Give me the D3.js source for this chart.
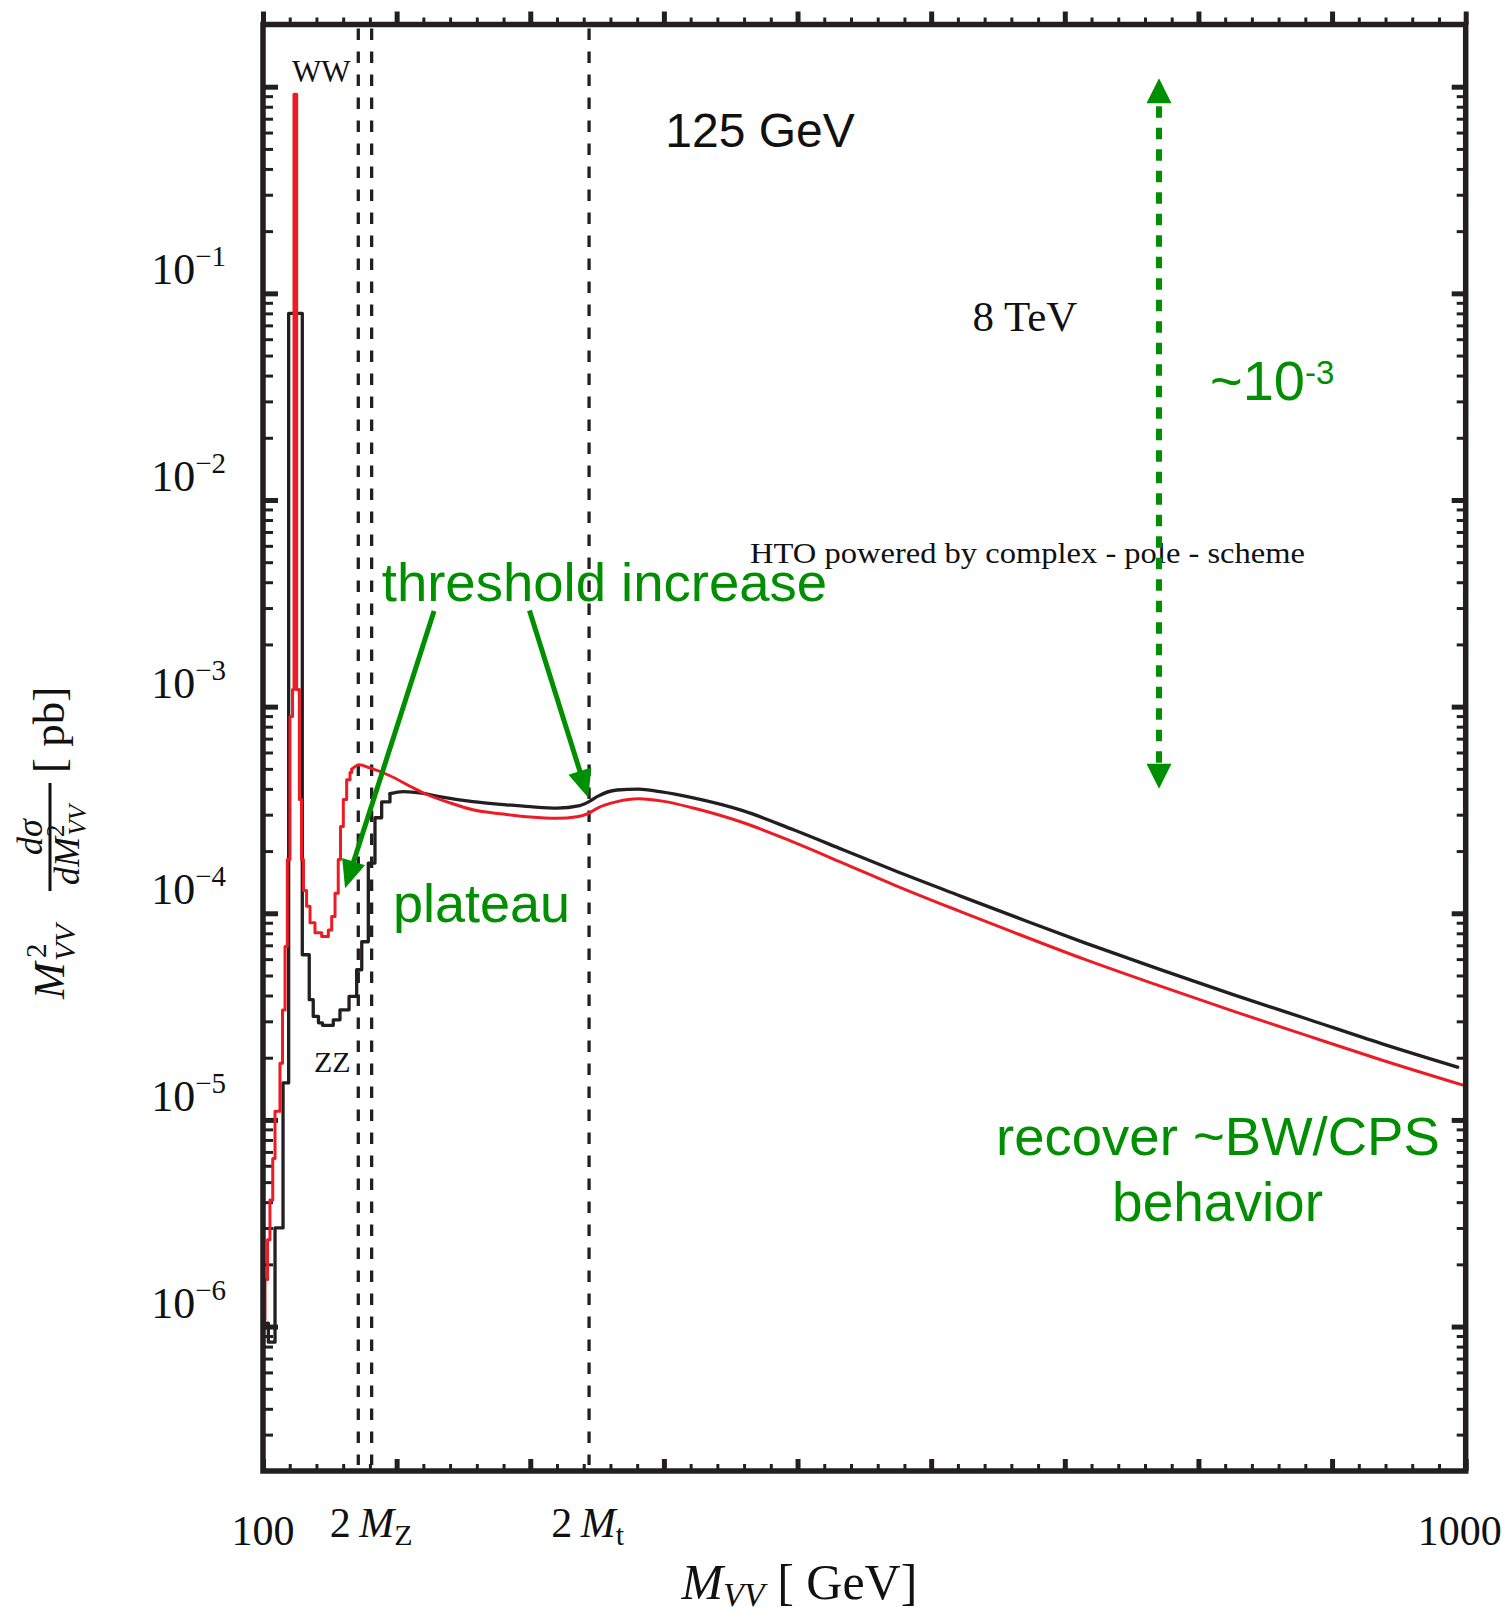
<!DOCTYPE html>
<html><head><meta charset="utf-8">
<script src="https://cdn.jsdelivr.net/npm/d3@7"></script>
<style>body{margin:0;background:#fff}svg{display:block}</style>
</head><body>
<svg id="c" width="1507" height="1617"></svg>
<script>
// ---------------- data ----------------
const xDomain = [100, 1000];
const yDomain = [2e-7, 2];
const xMajorTicks = [100, 200, 300, 400, 500, 600, 700, 800, 900, 1000];
const xMinorTicks = [120,140,160,180,220,240,260,280,320,340,360,380,420,440,460,480,520,540,560,580,620,640,660,680,720,740,760,780,820,840,860,880,920,940,960,980];
const yMajorTicks = [1e-6, 1e-5, 1e-4, 1e-3, 1e-2, 1e-1, 1];
const yMinorMultipliers = [2, 3, 4, 5, 6, 7, 8, 9];
const yLabelExponents = [-1, -2, -3, -4, -5, -6];
const xTickLabels = ["100", "2 M|Z", "2 M|t", "1000"];
const xTickLabelValues = [100, 181, 343, 1000];
const thresholdLines = [171.3, 181.3, 344];

// black histogram (low-mass bins): edges and bin contents
const blackStepEdges = [102,104,109,115,119.2,129.4,134.6,137.6,141.5,144.5,152.6,157.6,164.4,170.1,173.9,178.8,183.8,188.8,195];
const blackStepValues = [1.04e-6,8.4e-7,3.0e-6,1.51e-5,0.080,6.3e-5,3.82e-5,3.17e-5,2.95e-5,2.87e-5,3.05e-5,3.41e-5,3.96e-5,5.33e-5,7.28e-5,1.75e-4,2.90e-4,3.46e-4];
// black smooth part
const blackX = [195,205,220,232,257,282,300,320,337,344,350,365,381,397,422,459,497,534,572,622,660,715,771,826,882,937,994];
const blackY = [3.79e-4,3.88e-4,3.8e-4,3.67e-4,3.47e-4,3.35e-4,3.28e-4,3.23e-4,3.32e-4,3.47e-4,3.67e-4,3.95e-4,3.99e-4,3.88e-4,3.62e-4,3.14e-4,2.535e-4,2.03e-4,1.614e-4,1.211e-4,9.77e-5,7.19e-5,5.35e-5,4.04e-5,3.07e-5,2.34e-5,1.80e-5];

// red histogram (fine bins near the peak)
const redStepEdges = [100.9,101.5,103.4,105.2,107.3,109,112.7,114.6,116.5,118.2,120.2,122.1,123.2,125.2,127.2,128.8,130.3,132.6,135.2,138.9,143.9,148.9,151.4,153.9,156.3,158.0,160.1,162.6,165.1,166.4];
const redStepValues = [1.08e-6,1.69e-6,2.63e-6,4.1e-6,6.5e-6,1.1e-5,1.88e-5,3.4e-5,6.9e-5,1.82e-4,8.95e-4,1.21e-3,0.92,1.21e-3,3.55e-4,1.82e-4,1.29e-4,1.08e-4,8.99e-5,8.05e-5,7.73e-5,8.3e-5,9.65e-5,1.25e-4,1.82e-4,2.63e-4,3.55e-4,4.43e-4,4.8e-4];
// red smooth part
const redX = [166.4,172,180,195,210,220,240,257,280,300,320,335,344,350,365,381,400,422,459,497,534,572,622,660,715,771,826,882,937,1000];
const redY = [4.98e-4,5.23e-4,5.05e-4,4.63e-4,4.12e-4,3.82e-4,3.42e-4,3.17e-4,3.02e-4,2.92e-4,2.88e-4,2.93e-4,3.05e-4,3.22e-4,3.47e-4,3.58e-4,3.48e-4,3.23e-4,2.75e-4,2.21e-4,1.75e-4,1.374e-4,1.019e-4,8.17e-5,5.98e-5,4.45e-5,3.36e-5,2.55e-5,1.95e-5,1.46e-5];

// annotations (data coordinates)
const arrowStarts = [[228, 2.9e-3], [299.4, 2.92e-3]];
const arrowEnds   = [[161.4, 1.32e-4], [343.4, 3.62e-4]];
const rangeArrowX = 770.5;
const rangeArrowY = [1.1, 4.0e-4];

// ---------------- drawing ----------------
const svg = d3.select('#c');
const INK = '#231f20', RED = '#ed1c24', GREEN = '#008f00';
const SERIF = '"Liberation Serif","DejaVu Serif",serif';
const SANS = '"Liberation Sans",Arial,sans-serif';

const x = d3.scaleLinear().domain(xDomain).range([263, 1465.7]);
const y = d3.scaleLog().domain(yDomain).range([1471, 24.5]);
const X0 = x(xDomain[0]), X1 = x(xDomain[1]), Y0 = y(yDomain[0]), Y1 = y(yDomain[1]);

// minor y ticks
const yMinorTicks = [];
for (let e = -7; e <= 0; e++) yMinorMultipliers.forEach(m => {
  const v = m * Math.pow(10, e);
  if (v > yDomain[0] * 1.0001 && v < yDomain[1] * 0.9999) yMinorTicks.push(v);
});

// threshold dashed lines
svg.append('g').selectAll('line').data(thresholdLines).join('line')
  .attr('x1', d => x(d)).attr('x2', d => x(d))
  .attr('y1', Y1 + 4).attr('y2', Y0 - 6)
  .attr('stroke', INK).attr('stroke-width', 3.3).attr('stroke-dasharray', '11.5,11.5');

function drawAxis(axis, tx, ty, vals, size, width) {
  const g = svg.append('g').attr('transform', `translate(${tx},${ty})`)
    .call(axis.tickValues(vals).tickSize(size).tickFormat(''));
  g.select('.domain').remove();
  g.selectAll('.tick line').attr('stroke', INK).attr('stroke-width', width);
}
drawAxis(d3.axisRight(y), X0, 0, yMajorTicks, 15, 5);
drawAxis(d3.axisRight(y), X0, 0, yMinorTicks, 10, 3);
drawAxis(d3.axisLeft(y), X1, 0, yMajorTicks, 14, 5);
drawAxis(d3.axisLeft(y), X1, 0, yMinorTicks, 9, 3);
drawAxis(d3.axisTop(x), 0, Y0, xMajorTicks, 12, 5);
drawAxis(d3.axisTop(x), 0, Y0, xMinorTicks, 7, 3);
drawAxis(d3.axisTop(x), 0, Y1, xMajorTicks, 13, 5);
drawAxis(d3.axisTop(x), 0, Y1, xMinorTicks, 7, 3);

// curves
function stepPoints(edges, vals) {
  const pts = [];
  vals.forEach((v, i) => { pts.push([edges[i], v]); pts.push([edges[i + 1], v]); });
  return pts;
}
const lineLin = d3.line().x(d => x(d[0])).y(d => y(d[1]));
const lineSmooth = d3.line().x(d => x(d[0])).y(d => y(d[1])).curve(d3.curveMonotoneX);

function drawSeries(edges, vals, sx, sy, color, w) {
  const steps = stepPoints(edges, vals);
  const smooth = sx.map((v, i) => [v, sy[i]]);
  steps.push(smooth[0]);
  svg.append('path').attr('d', lineLin(steps)).attr('fill', 'none')
    .attr('stroke', color).attr('stroke-width', w).attr('stroke-linejoin', 'round').attr('stroke-linecap', 'round');
  svg.append('path').attr('d', lineSmooth(smooth)).attr('fill', 'none')
    .attr('stroke', color).attr('stroke-width', w).attr('stroke-linejoin', 'round').attr('stroke-linecap', 'round');
}
drawSeries(blackStepEdges, blackStepValues, blackX, blackY, INK, 3.3);
drawSeries(redStepEdges, redStepValues, redX, redY, RED, 3);

// frame
svg.append('rect').attr('x', X0).attr('y', Y1).attr('width', X1 - X0).attr('height', Y0 - Y1)
  .attr('fill', 'none').attr('stroke', INK).attr('stroke-width', 5.5);

// y tick labels
yLabelExponents.forEach(e => {
  const t = svg.append('text').attr('x', 226).attr('y', y(Math.pow(10, e)) - 9)
    .attr('text-anchor', 'end').attr('font-family', SERIF).attr('font-size', 44).attr('fill', '#111');
  t.append('tspan').text('10');
  t.append('tspan').attr('font-size', 29).attr('dy', -18).text('\u2212' + (-e));
});

// x tick labels
xTickLabels.forEach((lab, i) => {
  const v = xTickLabelValues[i];
  const t = svg.append('text').attr('x', x(v) + (i === 3 ? -6 : 0))
    .attr('text-anchor', 'middle').attr('font-family', SERIF).attr('font-size', 42).attr('fill', '#111');
  if (lab.indexOf('|') < 0) { t.attr('y', 1545).text(lab); return; }
  const [main, sub] = lab.split('|');
  const [num, sym] = main.split(' ');
  t.attr('y', 1537);
  t.append('tspan').text(num + '\u2009');
  t.append('tspan').attr('font-style', 'italic').text(sym);
  t.append('tspan').attr('font-size', 30).attr('dy', 8).text(sub);
});

// x-axis title
{
  const t = svg.append('text').attr('x', x(xDomain[0]) + (X1 - X0) * 0.446).attr('y', 1599)
    .attr('text-anchor', 'middle').attr('font-family', SERIF).attr('font-size', 50).attr('fill', '#111');
  t.append('tspan').attr('font-style', 'italic').text('M');
  t.append('tspan').attr('font-style', 'italic').attr('font-size', 34).attr('dy', 7).text('VV');
  t.append('tspan').attr('dy', -7).text(' [ GeV]');
}

// y-axis title (rotated)
{
  const g = svg.append('g').attr('transform', 'translate(64,999) rotate(-90)')
    .attr('font-family', SERIF).attr('fill', '#111');
  g.append('text').attr('x', 0).attr('y', 0).attr('font-size', 44).attr('font-style', 'italic').text('M');
  g.append('text').attr('x', 41).attr('y', -18).attr('font-size', 29).text('2');
  g.append('text').attr('x', 38).attr('y', 11).attr('font-size', 30).attr('font-style', 'italic').text('VV');
  g.append('line').attr('x1', 108).attr('x2', 216).attr('y1', -14).attr('y2', -14)
    .attr('stroke', '#111').attr('stroke-width', 3);
  g.append('text').attr('x', 162).attr('y', -22).attr('text-anchor', 'middle')
    .attr('font-size', 36).attr('font-style', 'italic').text('d\u03c3');
  const den = g.append('text').attr('x', 114).attr('y', 15).attr('font-size', 36).attr('font-style', 'italic');
  den.append('tspan').text('dM');
  den.append('tspan').attr('font-size', 25).attr('font-style', 'normal').attr('dy', -15).text('2');
  den.append('tspan').attr('font-size', 25).attr('dx', -11).attr('dy', 22).text('VV');
  g.append('text').attr('x', 226).attr('y', 0).attr('font-size', 45).text('[ pb]');
}

// plot annotations
function label(txt, v, val, opts) {
  const t = svg.append('text').attr('x', x(v)).attr('y', y(val))
    .attr('font-family', opts.font).attr('font-size', opts.size).attr('fill', opts.color || '#111')
    .attr('text-anchor', opts.anchor || 'middle');
  if (opts.len) t.attr('textLength', opts.len).attr('lengthAdjust', 'spacingAndGlyphs');
  t.text(txt);
  return t;
}
label('WW', 121.7, 1.057, {font: SERIF, size: 31, anchor: 'start'});
label('ZZ', 138.2, 1.71e-5, {font: SERIF, size: 30, anchor: 'start'});
label('125 GeV', 471.9, 0.511, {font: SANS, size: 48});
label('8 TeV', 670.2, 0.0657, {font: SERIF, size: 43});
label('HTO powered by complex - pole - scheme', 672.1, 4.96e-3, {font: SERIF, size: 30, len: 555});
label('threshold increase', 355.5, 3.25e-3, {font: SANS, size: 54.5, color: GREEN});
label('plateau', 263.5, 9.12e-5, {font: SANS, size: 54, color: GREEN});
label('recover ~BW/CPS', 814.6, 6.77e-6, {font: SANS, size: 54.5, color: GREEN});
label('behavior', 814.3, 3.25e-6, {font: SANS, size: 55, color: GREEN});
{
  const t = label('~10', 808.6, 0.0305, {font: SANS, size: 56, color: GREEN, anchor: 'start'});
  t.append('tspan').attr('font-size', 33).attr('dy', -16).text('-3');
}

// green arrows
function arrow(p0, p1, color, w, headLen, headW) {
  const ax = x(p0[0]), ay = y(p0[1]), bx = x(p1[0]), by = y(p1[1]);
  const dx = bx - ax, dy = by - ay, L = Math.hypot(dx, dy), ux = dx / L, uy = dy / L;
  const baseX = bx - ux * headLen, baseY = by - uy * headLen;
  svg.append('line').attr('x1', ax).attr('y1', ay).attr('x2', baseX + ux * 2).attr('y2', baseY + uy * 2)
    .attr('stroke', color).attr('stroke-width', w);
  svg.append('path').attr('d', `M${bx},${by}L${baseX - uy * headW / 2},${baseY + ux * headW / 2}L${baseX + uy * headW / 2},${baseY - ux * headW / 2}Z`)
    .attr('fill', color);
}
arrowStarts.forEach((s, i) => arrow(s, arrowEnds[i], GREEN, 5, 28, 24));
{
  // double-headed dashed range arrow
  const xp = x(rangeArrowX), yt = y(rangeArrowY[0]), yb = y(rangeArrowY[1]), hl = 25, hw = 25;
  svg.append('line').attr('x1', xp).attr('x2', xp).attr('y1', yt + hl + 3).attr('y2', yb - hl)
    .attr('stroke', GREEN).attr('stroke-width', 6).attr('stroke-dasharray', '11.5,10');
  svg.append('path').attr('d', `M${xp},${yt}L${xp - hw / 2},${yt + hl}L${xp + hw / 2},${yt + hl}Z`).attr('fill', GREEN);
  svg.append('path').attr('d', `M${xp},${yb}L${xp - hw / 2},${yb - hl}L${xp + hw / 2},${yb - hl}Z`).attr('fill', GREEN);
}
</script>
</body></html>
